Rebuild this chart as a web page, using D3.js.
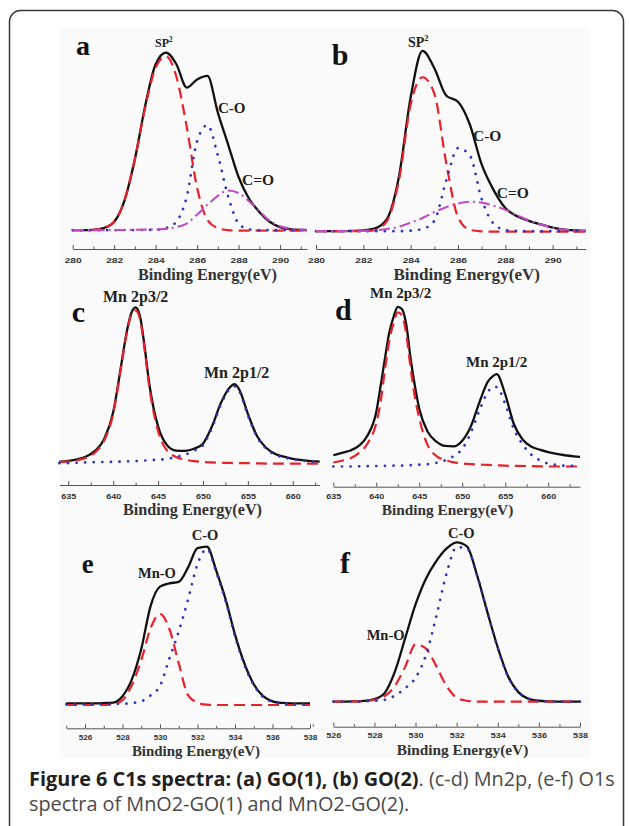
<!DOCTYPE html>
<html>
<head>
<meta charset="utf-8">
<script src="https://cdn.jsdelivr.net/npm/d3@7"></script>
<style>
  body { margin: 0; background: #fff; }
</style>
</head>
<body>
<script>
// ---- C1s of GO(1), panel a ----
const aEnergy = [280, 280.5, 281, 281.5, 282, 282.5, 283, 283.5, 284, 284.5, 285, 285.5, 286, 286.5, 287, 287.5, 288, 288.5, 289, 289.5, 290, 290.5, 291, 291.3];
const aTotal  = [0.3, 0.3, 0.5, 1.5, 5, 17, 40, 70, 93, 99.5, 93, 80, 84.5, 86.5, 66, 48, 30, 18, 10.5, 5, 2, 0.8, 0.4, 0.3];
const aSp2    = [0.3, 0.3, 0.5, 1.5, 5, 17, 40, 69, 91, 97.5, 86, 58, 24, 6, 1.5, 0.3, 0, 0, 0, 0, 0, 0, 0, 0];
const aCO     = [0.3, 0.3, 0.3, 0.3, 0.3, 0.4, 0.4, 0.4, 0.5, 1.5, 5, 19, 50, 59, 42, 19, 4, 0.8, 0.3, 0.3, 0.3, 0.3, 0.3, 0.3];
const aCdO    = [0.3, 0.3, 0.3, 0.3, 0.4, 0.4, 0.5, 0.6, 0.8, 1, 2, 4, 9, 14.5, 19.5, 22.5, 21, 16.5, 11, 5.5, 2.5, 1.2, 0.6, 0.5];

// ---- C1s of GO(2), panel b ----
const bEnergy = [280, 280.5, 281, 281.5, 282, 282.5, 283, 283.5, 284, 284.5, 285, 285.5, 286, 286.5, 287, 287.5, 288, 288.5, 289, 289.5, 290, 290.5, 291, 291.4];
const bTotal  = [0.3, 0.3, 0.3, 0.4, 0.7, 1.8, 7, 30, 74, 99.5, 90, 75, 71.5, 59, 37, 23, 13, 8.5, 6, 4, 2.2, 1.2, 0.7, 0.5];
const bSp2    = [0.3, 0.3, 0.3, 0.3, 0.3, 1, 6, 28, 70, 85, 76, 38, 8, 1, 0.2, 0, 0, 0, 0, 0, 0, 0, 0, 0];
const bCO     = [0.3, 0.3, 0.3, 0.3, 0.3, 0.3, 0.3, 0.3, 0.6, 1.5, 6, 28, 46, 42, 18, 4.5, 1, 0.4, 0.3, 0.3, 0.3, 0.3, 0.3, 0.3];
const bCdO    = [0.3, 0.3, 0.3, 0.4, 0.5, 0.8, 1.5, 2.7, 5, 7.5, 10.8, 13.5, 15.5, 16.5, 16, 14.3, 12, 9, 6.2, 4, 2.2, 1.2, 0.7, 0.5];

// ---- Mn2p of MnO2-GO(1), panel c ----
const cEnergy = [634, 635, 636, 637, 638, 639, 640, 640.5, 641, 641.5, 642, 642.5, 643, 643.5, 644, 645, 646, 647, 648, 649, 650, 651, 652, 653, 653.5, 654, 655, 656, 657, 658, 659, 660, 661, 662, 663];
const cTotal  = [1.5, 2, 3, 4.8, 8.5, 16, 33, 49, 67, 84, 96, 100, 94, 75, 52, 24, 12, 8.6, 8.4, 9.7, 13, 24, 39, 49, 51, 48, 32, 18, 10.5, 6.5, 4.7, 3.3, 2.5, 1.9, 1.5];
const cP32    = [1.2, 1.5, 2.4, 4, 7.5, 15, 32, 48, 66, 83, 95, 98, 92, 73, 50, 21, 8.5, 4.5, 2.8, 1.8, 1.3, 1, 0.8, 0.7, 0.6, 0.6, 0.5, 0.4, 0.3, 0.3, 0.2, 0.2, 0.2, 0.2, 0.2];
const cP12    = [0.5, 0.6, 0.8, 1, 1.2, 1.3, 1.4, 1.5, 1.6, 1.7, 1.8, 1.9, 2, 2.2, 2.4, 2.8, 3.3, 4.5, 6, 8.5, 12, 23, 38, 48, 49.5, 47, 31, 17.5, 10, 6, 4.2, 3, 2.2, 1.6, 1.3];

// ---- Mn2p of MnO2-GO(2), panel d ----
const dEnergy = [635, 636, 637, 638, 639, 640, 640.5, 641, 641.5, 642, 642.5, 643, 643.5, 644, 644.5, 645, 646, 647, 648, 649, 650, 651, 652, 653, 653.5, 654, 655, 656, 657, 658, 659, 660, 661, 662, 663, 663.7];
const dTotal  = [7, 8.5, 10, 13, 19.5, 34, 50, 67, 83, 93, 99.5, 98, 88, 67, 50, 36, 21.5, 15.5, 12.8, 12.5, 16, 25, 40, 53, 56, 57.5, 45, 26.5, 17, 12.5, 10.5, 9, 7.8, 7, 6.3, 6];
const dP32    = [2.5, 3.6, 5.2, 8.5, 14.5, 27, 40, 60, 78, 89, 96, 94, 82, 61, 43, 30, 13, 6.5, 4, 2.6, 1.9, 1.5, 1.2, 1, 0.9, 0.8, 0.5, 0.4, 0.3, 0.2, 0.1, 0, 0, 0, 0, 0];
const dP12    = [0, 0, 0, 0.1, 0.2, 0.3, 0.4, 0.4, 0.5, 0.5, 0.6, 0.6, 0.7, 0.8, 1, 1.2, 1.5, 2.3, 3.8, 6.5, 11, 21, 35, 46.5, 49.5, 49.5, 39, 23.5, 14, 7.5, 4, 1.8, 1, 0.5, 0.4, 0.4];

// ---- O1s of MnO2-GO(1), panel e ----
const eEnergy = [525, 525.5, 526, 526.5, 527, 527.5, 528, 528.5, 529, 529.5, 530, 530.5, 531, 531.5, 532, 532.5, 533, 533.5, 534, 534.5, 535, 535.5, 536, 536.5, 537, 537.5, 538];
const eTotal  = [1, 1, 1, 1, 1.2, 1.5, 5.5, 16, 35, 62, 74, 76, 77, 86, 98, 99, 84, 66, 44, 26, 13, 5.5, 2.3, 1.3, 1, 1, 1];
const eMnO    = [0, 0, 0, 0, 0, 0.5, 3, 12.5, 28, 48, 57, 47.5, 26, 6, 1.5, 0.2, 0, 0, 0, 0, 0, 0, 0, 0, 0, 0, 0];
const eCO     = [0.5, 0.5, 0.5, 0.5, 0.6, 0.7, 0.8, 1.2, 2.3, 6, 12, 29, 46, 66, 88, 97.5, 83, 65, 43, 25, 12.5, 5, 2, 1, 0.7, 0.5, 0.5];

// ---- O1s of MnO2-GO(2), panel f ----
const fEnergy = [526, 526.5, 527, 527.5, 528, 528.5, 529, 529.5, 530, 530.5, 531, 531.5, 532, 532.5, 533, 533.5, 534, 534.5, 535, 535.5, 536, 536.5, 537, 537.5, 538];
const fTotal  = [0, 0, 0.2, 0.5, 1.6, 5.5, 19, 40, 61, 77, 88, 96, 100, 97.5, 79, 56, 34, 16, 6, 1.8, 0.6, 0.2, 0, 0, 0];
const fMnO    = [0, 0, 0.2, 0.5, 1.2, 3.5, 10, 22, 36, 33.5, 22.5, 10, 2.5, 0.6, 0, 0, 0, 0, 0, 0, 0, 0, 0, 0, 0];
const fCO     = [0, 0, 0, 0.2, 0.6, 1.2, 3.8, 8.5, 15, 29, 53, 80, 97, 96, 79, 56, 33.5, 15.5, 6, 1.8, 0.5, 0.2, 0, 0, 0];

// tick values
const c1sMajor = [280, 282, 284, 286, 288, 290];
const c1sMinor = [281, 283, 285, 287, 289, 291];
const mnMajor  = [635, 640, 645, 650, 655, 660];
const mnMinor  = [637.5, 642.5, 647.5, 652.5, 657.5, 662.5];
const o1sMajor = [526, 528, 530, 532, 534, 536, 538];
const o1sMinor = [525, 527, 529, 531, 533, 535, 537];

const axisTitle = "Binding Energy(eV)";
const captionBold = "Figure 6 C1s spectra: (a) GO(1), (b) GO(2)";
const captionRest1 = ". (c-d) Mn2p, (e-f) O1s";
const captionLine2 = "spectra of MnO2-GO(1) and MnO2-GO(2).";

// line styles
const styles = {
  total: { stroke: "#111", width: 2.3, dash: null },
  red:   { stroke: "#e8212b", width: 2.2, dash: "11,6" },
  blue:  { stroke: "#2a38b8", width: 2.7, dash: "0.1,8.5" },
  pink:  { stroke: "#c24cc2", width: 2.1, dash: "11,4,2,4" }
};

const W = 629, H = 826;
const serif = "'Liberation Serif', 'Times New Roman', serif";
const sans = "'Liberation Sans', Arial, sans-serif";

const panels = [
  { letter: "a", lx: 76, ly: 55, ls: 28, energy: aEnergy,
    series: [[aTotal, "total"], [aSp2, "red"], [aCO, "blue"], [aCdO, "pink"]],
    domain: [280, 291.3], xr: [72.7, 307], yr: [230.7, 51.7], axisY: 249,
    major: c1sMajor, minor: c1sMinor, tickBase: 262.5, tickW: 17,
    titleX: 207.5, titleY: 279.5, titleW: 139,
    labels: [["SP", 155, 47, 12, "2"], ["C-O", 218, 113, 15], ["C=O", 242, 185, 15.5]] },
  { letter: "b", lx: 331.7, ly: 65, ls: 30, energy: bEnergy,
    series: [[bTotal, "total"], [bSp2, "red"], [bCO, "blue"], [bCdO, "pink"]],
    domain: [280, 291.4], xr: [316, 585.8], yr: [231.7, 50], axisY: 249,
    major: c1sMajor, minor: c1sMinor, tickBase: 263, tickW: 17,
    titleX: 466.7, titleY: 279.5, titleW: 146.7,
    labels: [["SP", 408, 46.7, 14, "2"], ["C-O", 473, 141, 15.5], ["C=O", 496.7, 198.3, 15.5]] },
  { letter: "c", lx: 71.7, ly: 321.7, ls: 30, energy: cEnergy,
    series: [[cTotal, "total"], [cP32, "red"], [cP12, "blue"]],
    domain: [634, 663], xr: [59.3, 319.7], yr: [464, 307.3], axisY: 485,
    major: mnMajor, minor: mnMinor, tickBase: 499, tickW: 15,
    titleX: 192.5, titleY: 514.5, titleW: 139,
    labels: [["Mn 2p3/2", 103, 301.7, 16], ["Mn 2p1/2", 204, 378.3, 16]] },
  { letter: "d", lx: 335, ly: 320, ls: 30, energy: dEnergy,
    series: [[dTotal, "total"], [dP32, "red"], [dP12, "blue"]],
    domain: [635, 663.7], xr: [333.3, 580], yr: [466.5, 306], axisY: 486.7,
    major: mnMajor, minor: mnMinor, tickBase: 499.5, tickW: 15,
    titleX: 447.5, titleY: 514.5, titleW: 131.7,
    labels: [["Mn 2p3/2", 370, 298.3, 15], ["Mn 2p1/2", 466, 366.7, 15]] },
  { letter: "e", lx: 81.7, ly: 573, ls: 27, energy: eEnergy,
    series: [[eTotal, "total"], [eMnO, "red"], [eCO, "blue"]],
    domain: [525, 538], xr: [66.25, 310], yr: [705, 545], axisY: 728.3,
    major: o1sMajor, minor: o1sMinor, tickBase: 740, tickW: 13.5,
    titleX: 196, titleY: 755.5, titleW: 128.3,
    labels: [["Mn-O", 138, 578, 14.5], ["C-O", 191.7, 540, 14.5]] },
  { letter: "f", lx: 340, ly: 573, ls: 30, energy: fEnergy,
    series: [[fTotal, "total"], [fMnO, "red"], [fCO, "blue"]],
    domain: [526, 538], xr: [333.3, 580], yr: [701.7, 542.3], axisY: 726.7,
    major: o1sMajor, minor: o1sMinor, tickBase: 738.5, tickW: 15,
    titleX: 462.5, titleY: 754.5, titleW: 131.6,
    labels: [["Mn-O", 366.7, 640, 14.5], ["C-O", 448, 538, 14.5]] }
];

const svg = d3.select("body").append("svg")
    .attr("width", W)
    .attr("height", H)
    .style("display", "block");

// faint figure background and the frame
svg.append("rect")
    .attr("x", 60).attr("y", 28).attr("width", 530).attr("height", 730)
    .attr("fill", "#fafafa");
svg.append("rect")
    .attr("x", 9.5).attr("y", 10.5).attr("width", 614).attr("height", 830)
    .attr("rx", 11)
    .attr("fill", "none")
    .attr("stroke", "#3a3a3a")
    .attr("stroke-width", 1.5);

function fitWidth(sel, target) {
  const fs = parseFloat(sel.attr("font-size"));
  const w = sel.node().getComputedTextLength();
  if (w > 0) sel.attr("font-size", fs * target / w);
}

function drawPanel(p) {
  const x = d3.scaleLinear().domain(p.domain).range(p.xr);
  const y = d3.scaleLinear().domain([0, 100]).range(p.yr);
  const g = svg.append("g");

  // axis: inward (upward) ticks, labels below
  const fs = 7.5;
  const major = d3.axisBottom(x).tickValues(p.major).tickSizeInner(-4).tickSizeOuter(0)
      .tickPadding(p.tickBase - p.axisY - 0.71 * fs);
  const ax = g.append("g")
      .attr("transform", `translate(0,${p.axisY})`)
      .call(major);
  ax.select(".domain").attr("stroke", "#555").attr("stroke-width", 1);
  ax.selectAll(".tick line").attr("stroke", "#555");
  ax.selectAll(".tick text")
      .attr("font-family", sans)
      .attr("font-weight", "bold")
      .attr("font-size", fs)
      .attr("fill", "#333")
      .attr("textLength", p.tickW)
      .attr("lengthAdjust", "spacingAndGlyphs");

  const minor = d3.axisBottom(x).tickValues(p.minor).tickSizeInner(-2.5).tickSizeOuter(0).tickFormat("");
  const mx = g.append("g")
      .attr("transform", `translate(0,${p.axisY})`)
      .call(minor);
  mx.select(".domain").remove();
  mx.selectAll(".tick line").attr("stroke", "#555");

  const title = g.append("text")
      .attr("x", p.titleX)
      .attr("y", p.titleY)
      .attr("text-anchor", "middle")
      .attr("font-family", serif)
      .attr("font-weight", "bold")
      .attr("font-size", 15)
      .attr("fill", "#333")
      .text(axisTitle);
  fitWidth(title, p.titleW);

  // curves
  p.series.forEach(([vals, key]) => {
    const st = styles[key];
    const line = d3.line()
        .x((d, i) => x(p.energy[i]))
        .y(d => y(d))
        .curve(d3.curveMonotoneX);
    g.append("path")
        .datum(vals)
        .attr("d", line)
        .attr("fill", "none")
        .attr("stroke", st.stroke)
        .attr("stroke-width", st.width)
        .attr("stroke-linecap", key === "blue" ? "round" : "butt")
        .attr("stroke-linejoin", "round")
        .attr("stroke-dasharray", st.dash);
  });

  // panel letter
  g.append("text")
      .attr("x", p.lx)
      .attr("y", p.ly)
      .attr("font-family", serif)
      .attr("font-weight", "bold")
      .attr("font-size", p.ls)
      .attr("fill", "#111")
      .text(p.letter);

  // peak labels
  p.labels.forEach(([txt, lx, ly, size, sup]) => {
    const t = g.append("text")
        .attr("x", lx)
        .attr("y", ly)
        .attr("font-family", serif)
        .attr("font-weight", "bold")
        .attr("font-size", size)
        .attr("fill", "#222")
        .text(txt);
    if (sup) {
      t.append("tspan")
          .attr("dy", -size * 0.42)
          .attr("font-size", size * 0.6)
          .text(sup);
    }
  });
}

panels.forEach(drawPanel);

// caption
const cap1 = svg.append("text")
    .attr("x", 29)
    .attr("y", 786)
    .attr("font-family", "'Open Sans', 'Noto Sans', sans-serif")
    .attr("font-size", 15);
cap1.append("tspan")
    .attr("font-weight", "bold")
    .attr("fill", "#231f20")
    .text(captionBold);
cap1.append("tspan")
    .attr("fill", "#4a4a4a")
    .text(captionRest1);
fitWidth(cap1, 586);

svg.append("text")
    .attr("x", 29)
    .attr("y", 811)
    .attr("font-family", "'Open Sans', 'Noto Sans', sans-serif")
    .attr("font-size", cap1.attr("font-size"))
    .attr("fill", "#4a4a4a")
    .text(captionLine2);
</script>
</body>
</html>
